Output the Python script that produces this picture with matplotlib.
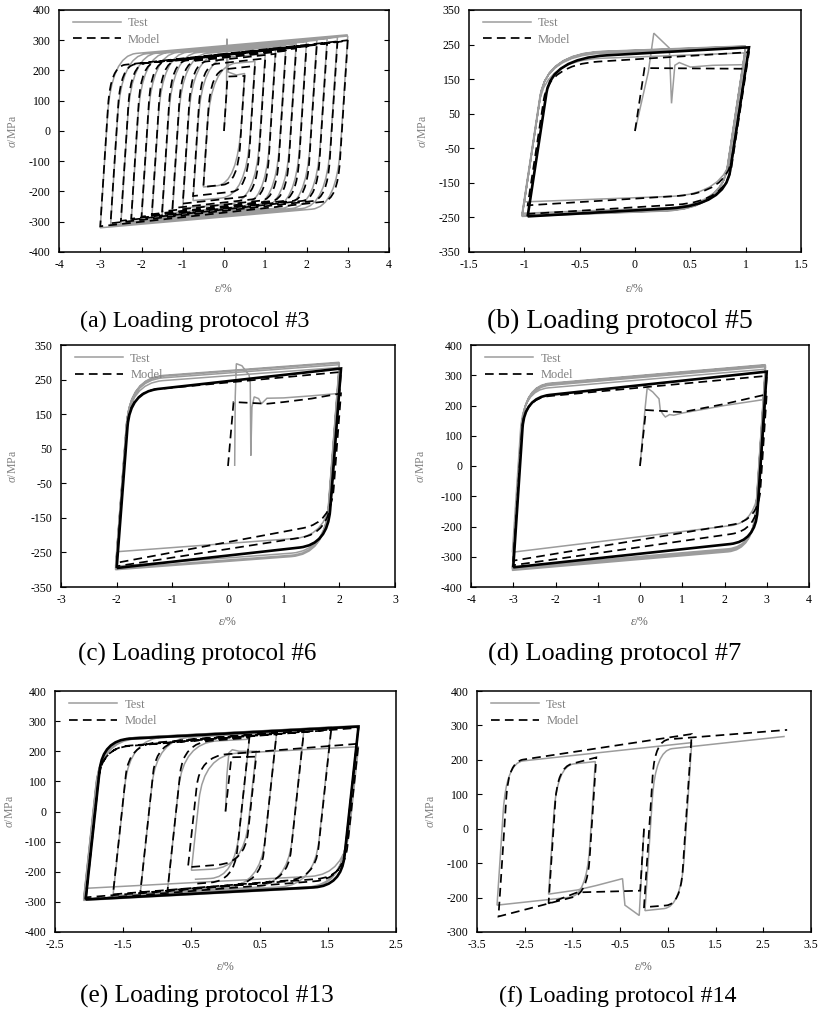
# -*- coding: utf-8 -*-
"""
Stress-strain hysteresis loops, test vs. model, six loading protocols.
"""

# %% Imports
import matplotlib.pyplot as plt
from matplotlib.path import Path
from matplotlib.patches import PathPatch
from matplotlib.lines import Line2D

plt.rcParams['font.family'] = ['Liberation Serif', 'DejaVu Serif']
plt.rcParams['mathtext.fontset'] = 'custom'
plt.rcParams['mathtext.it'] = 'Liberation Serif:italic'
plt.rcParams['mathtext.rm'] = 'Liberation Serif'
plt.rcParams['axes.unicode_minus'] = False

# %% Data (strain in %, stress in MPa)
# (a) protocol #3 : one cycle per amplitude, increasing
a_pos_strain = [0.5, 0.75, 1.0, 1.25, 1.5, 1.75, 2.0, 2.25, 2.5, 2.75, 3.0, 3.0]
a_neg_strain = [-0.5, -0.75, -1.0, -1.25, -1.5, -1.75, -2.0, -2.25, -2.5, -2.75, -3.0]
a_test_pos = [190, 230, 255, 270, 280, 288, 295, 300, 305, 310, 314, 318]
a_test_neg = [-185, -230, -255, -270, -280, -288, -295, -300, -306, -312, -320]
a_model_pos = [182, 215, 240, 255, 265, 273, 280, 285, 290, 294, 298, 300]
a_model_neg = [-185, -215, -240, -255, -266, -275, -283, -290, -297, -305, -315]
a_test_start = [(0.0, 0), (0.06, 120), (0.07, 305), (0.1, 195), (0.3, 185), (0.5, 190)]
a_model_start = [(0.0, 0), (0.086, 180), (0.5, 182)]

# (b) protocol #5 : +-1 %
b_test_start = [(0.0, 0), (0.12, 170), (0.17, 283), (0.31, 240), (0.33, 80), (0.36, 190),
                (0.4, 198), (0.5, 185), (0.7, 190), (1.0, 192)]
b_test_rev = [(1.0, 192), (-1.0, -205), (1.0, 226), (-1.02, -238), (1.0, 240), (-1.02, -243),
              (1.0, 243), (-1.02, -246), (1.0, 245), (-1.02, -247), (1.0, 246)]
b_model_start = [(0.0, 0), (0.086, 182), (1.0, 180)]
b_model_rev = [(1.0, 180), (-0.97, -215), (1.03, 228), (-0.97, -240)]
b_model_sat = [(-0.97, -247), (1.03, 242), (-0.97, -247)]

# (c) protocol #6 : +-2 %
c_test_start = [(0.12, 0), (0.13, 200), (0.15, 296), (0.25, 290), (0.38, 262), (0.4, 240),
                (0.41, 30), (0.43, 170), (0.47, 200), (0.55, 195), (0.6, 180), (0.7, 196),
                (1.0, 197), (1.5, 203), (2.0, 210)]
c_test_rev = [(2.0, 210), (-2.0, -248), (2.0, 285), (-2.02, -290), (2.0, 293), (-2.02, -296),
              (2.0, 298), (-2.02, -300), (2.0, 300)]
c_model_start = [(0.0, 0), (0.1, 185), (0.7, 180), (1.0, 185), (1.5, 195), (2.03, 210)]
c_model_rev = [(2.03, 210), (-2.0, -280), (2.03, 272), (-2.0, -290)]
c_model_sat = [(-2.0, -295), (2.03, 282), (-2.0, -295)]

# (d) protocol #7 : +-3 %
d_test_start = [(0.0, 0), (0.12, 190), (0.17, 258), (0.3, 245), (0.45, 222), (0.48, 185),
                (0.55, 170), (0.6, 162), (0.7, 170), (0.8, 168), (1.0, 175), (2.0, 200),
                (2.95, 220)]
d_test_rev = [(2.95, 220), (-3.02, -285), (2.97, 320), (-3.02, -335), (2.97, 328),
              (-3.02, -340), (2.97, 333), (-3.02, -345), (2.97, 335)]
d_model_start = [(0.0, 0), (0.14, 185), (1.0, 178), (2.0, 205), (3.0, 237)]
d_model_rev = [(3.0, 237), (-3.0, -313), (3.0, 298), (-3.0, -328)]
d_model_sat = [(-3.0, -335), (3.0, 312), (-3.0, -335)]

# (e) protocol #13 : small cycle, +-2 %, then decreasing amplitude
e_test_start = [(0.0, 0), (0.02, 120), (0.05, 195), (0.1, 205), (0.2, 200), (0.45, 200)]
e_test_rev = [(0.45, 200), (-0.5, -195), (1.95, 215), (-2.05, -255), (1.95, 280),
              (-2.08, -290), (1.95, 285), (-2.08, -295), (1.55, 280), (-1.65, -280),
              (1.15, 272), (-1.25, -272), (0.75, 262), (-0.85, -262), (0.35, 240),
              (-0.45, -225)]
e_model_start = [(0.0, 0), (0.086, 180), (0.45, 182)]
e_model_rev = [(0.45, 182), (-0.55, -185), (1.95, 225), (-2.05, -285), (1.95, 278),
               (-2.05, -292), (1.55, 272), (-1.65, -275), (1.15, 268), (-1.25, -270),
               (0.75, 262), (-0.85, -262), (0.35, 245), (-0.45, -240)]
e_model_sat = [(-2.05, -292), (1.95, 282), (-2.05, -292)]

# (f) protocol #14 : compression first, two partial loops
f_test_start = [(0.0, 0), (-0.08, -200), (-0.1, -252), (-0.4, -222), (-0.45, -145),
                (-1.0, -165), (-1.4, -178), (-2.0, -190)]
f_test_rev = [(-2.0, -190), (-1.02, 195), (-3.08, -222), (1.0, 250), (0.02, -238),
              (2.95, 268)]
f_model_start = [(0.0, 0), (-0.08, -180), (-1.4, -185), (-2.0, -217)]
f_model_rev = [(-2.0, -217), (-1.0, 207), (-3.05, -255), (1.0, 275), (0.0, -228),
               (3.0, 287)]

GRAY = '#9c9c9c'
DASH = (0, (5, 3))
E = 2100.0  # elastic slope, MPa per %


def interleave(ps, pv, ns, nv):
    out = []
    for i in range(len(ps)):
        out.append((ps[i], pv[i]))
        if i < len(ns):
            out.append((ns[i], nv[i]))
    return out


def loop_path(start, revs, H, kb, kw):
    """Polyline for the monotonic part, then elastic/knee/hardening branches
    between the reversal points (knee drawn as a quadratic Bezier)."""
    verts, codes = [], []
    pts = list(start) if start else [revs[0]]
    verts.append(pts[0]); codes.append(Path.MOVETO)
    for p in pts[1:]:
        verts.append(p); codes.append(Path.LINETO)
    if verts[-1] != revs[0]:
        verts.append(revs[0]); codes.append(Path.LINETO)
    if not isinstance(H, (list, tuple)):
        H = [H] * (len(revs) - 1)
    for i in range(len(revs) - 1):
        (x0, y0), (x1, y1) = revs[i], revs[i + 1]
        h = H[i]
        d = 1 if x1 > x0 else -1
        xc = (y1 - y0 - h * x1 + E * x0) / (E - h)
        yc = y0 + E * (xc - x0)
        if d * (x1 - xc) <= 0.02:
            verts.append((x1, y1)); codes.append(Path.LINETO)
            continue
        yb = yc - d * kb
        if d * (yb - y0) < 0:
            yb = y0
        xb = x0 + (yb - y0) / E
        w = min(kw, 0.6 * abs(x1 - xc))
        xd = xc + d * w
        yd = y1 + h * (xd - x1)
        verts += [(xb, yb), (xc, yc), (xd, yd), (x1, y1)]
        codes += [Path.LINETO, Path.CURVE3, Path.CURVE3, Path.LINETO]
    return Path(verts, codes)


a_test_rev = interleave(a_pos_strain, a_test_pos, a_neg_strain, a_test_neg)
a_model_rev = interleave(a_pos_strain, a_model_pos, a_neg_strain, a_model_neg)

W, Hpx = 819, 1014
panels = [
    dict(box=(59, 10, 389, 252), xl=(-4, 4), xt=range(-4, 5), yl=(-400, 400),
         yt=range(-400, 401, 100), cap='(a) Loading protocol #3', cxy=(195, 321), cfs=17.4,
         lab=(-40, 31), right=True,
         test=(a_test_start, a_test_rev, 12, 200, 0.6),
         model=(a_model_start, a_model_rev, 15, 130, 0.35), sat=None),
    dict(box=(469, 10, 801, 252), xl=(-1.5, 1.5), xt=[-1.5, -1, -0.5, 0, 0.5, 1, 1.5],
         yl=(-350, 350), yt=range(-350, 351, 100), cap='(b) Loading protocol #5',
         cxy=(620, 321), cfs=20, lab=(-40, 31), right=False,
         test=(b_test_start, b_test_rev, 12, 120, 0.5),
         model=(b_model_start, b_model_rev, [20, 20, 20], 100, 0.45),
         sat=(b_model_sat, 18, 100, 0.5)),
    dict(box=(61, 345, 395, 587), xl=(-3, 3), xt=range(-3, 4), yl=(-350, 350),
         yt=range(-350, 351, 100), cap='(c) Loading protocol #6', cxy=(197, 654), cfs=18,
         lab=(-42, 29), right=False,
         test=(c_test_start, c_test_rev, 12, 130, 0.6),
         model=(c_model_start, c_model_rev, [30, 15, 25], 100, 0.5),
         sat=(c_model_sat, 18, 100, 0.5)),
    dict(box=(471, 345, 809, 587), xl=(-4, 4), xt=range(-4, 5), yl=(-400, 400),
         yt=range(-400, 401, 100), cap='(d) Loading protocol #7', cxy=(615, 654), cfs=19,
         lab=(-44, 29), right=False,
         test=(d_test_start, d_test_rev, [17, 12, 12, 12, 12, 12, 12, 12], 130, 0.6),
         model=(d_model_start, d_model_rev, [23, 13, 20], 100, 0.6),
         sat=(d_model_sat, 15, 100, 0.6)),
    dict(box=(55, 691, 396, 932), xl=(-2.5, 2.5), xt=[-2.5, -1.5, -0.5, 0.5, 1.5, 2.5],
         yl=(-400, 400), yt=range(-400, 401, 100), cap='(e) Loading protocol #13',
         cxy=(207, 996), cfs=18.2, lab=(-39, 29), right=False,
         test=(e_test_start, e_test_rev, 12, 150, 0.5),
         model=(e_model_start, e_model_rev, 18, 100, 0.4),
         sat=(e_model_sat, 12, 100, 0.4)),
    dict(box=(477, 691, 811, 932), xl=(-3.5, 3.5), xt=[-3.5, -2.5, -1.5, -0.5, 0.5, 1.5, 2.5, 3.5],
         yl=(-300, 400), yt=range(-300, 401, 100), cap='(f) Loading protocol #14',
         cxy=(618, 996), cfs=17.3, lab=(-40, 29), right=False,
         test=(f_test_start, f_test_rev, 15, 140, 0.35),
         model=(f_model_start, f_model_rev, [36, 36, 21, 11, 11], 100, 0.3), sat=None),
]

# %% Plot
fig = plt.figure(figsize=(W / 100, Hpx / 100), dpi=100)

for p in panels:
    x0, y0, x1, y1 = p['box']
    ax = fig.add_axes([x0 / W, 1 - y1 / Hpx, (x1 - x0) / W, (y1 - y0) / Hpx])

    st, rv, h, kb, kw = p['test']
    ax.add_patch(PathPatch(loop_path(st, rv, h, kb, kw), fill=False, ec=GRAY, lw=1.1))
    if p['sat'] is not None:
        rv, h, kb, kw = p['sat']
        ax.add_patch(PathPatch(loop_path(None, rv, h, kb, kw), fill=False, ec='k', lw=1.9))
    st, rv, h, kb, kw = p['model']
    ax.add_patch(PathPatch(loop_path(st, rv, h, kb, kw), fill=False, ec='k', lw=1.25, ls=DASH))

    ax.set_xlim(p['xl'])
    ax.set_ylim(p['yl'])
    ax.set_xticks(list(p['xt']))
    ax.set_yticks(list(p['yt']))
    ax.set_xticklabels(['%g' % v for v in p['xt']])
    ax.set_yticklabels(['%g' % v for v in p['yt']])
    ax.tick_params(direction='in', length=3.5, width=0.8, labelsize=8.5, colors='k',
                   right=p['right'])
    ax.tick_params(axis='y', pad=6)
    ax.tick_params(axis='x', pad=5)
    for s in ax.spines.values():
        s.set_linewidth(1.1)

    wpx, hpx = x1 - x0, y1 - y0
    ax.set_ylabel('$\u03c3$/MPa', fontsize=8.5, color='#808080')
    ax.set_xlabel('$\u03b5$/%', fontsize=8.5, color='#606060')
    ax.yaxis.set_label_coords(p['lab'][0] / wpx, 0.5)
    ax.xaxis.set_label_coords(0.5, -p['lab'][1] / hpx)

    handles = [Line2D([], [], color=GRAY, lw=1.1),
               Line2D([], [], color='k', lw=1.25, ls=DASH)]
    ax.legend(handles, ['Test', 'Model'], loc='upper left', frameon=False, fontsize=9,
              labelcolor='#808080', handlelength=3.8, handletextpad=0.6,
              borderaxespad=0.2, labelspacing=0.35, bbox_to_anchor=(0.02, 1.0))

    fig.text(p['cxy'][0] / W, 1 - p['cxy'][1] / Hpx, p['cap'], ha='center', va='center',
             fontsize=p['cfs'])

fig.savefig('out.png', dpi=100)
